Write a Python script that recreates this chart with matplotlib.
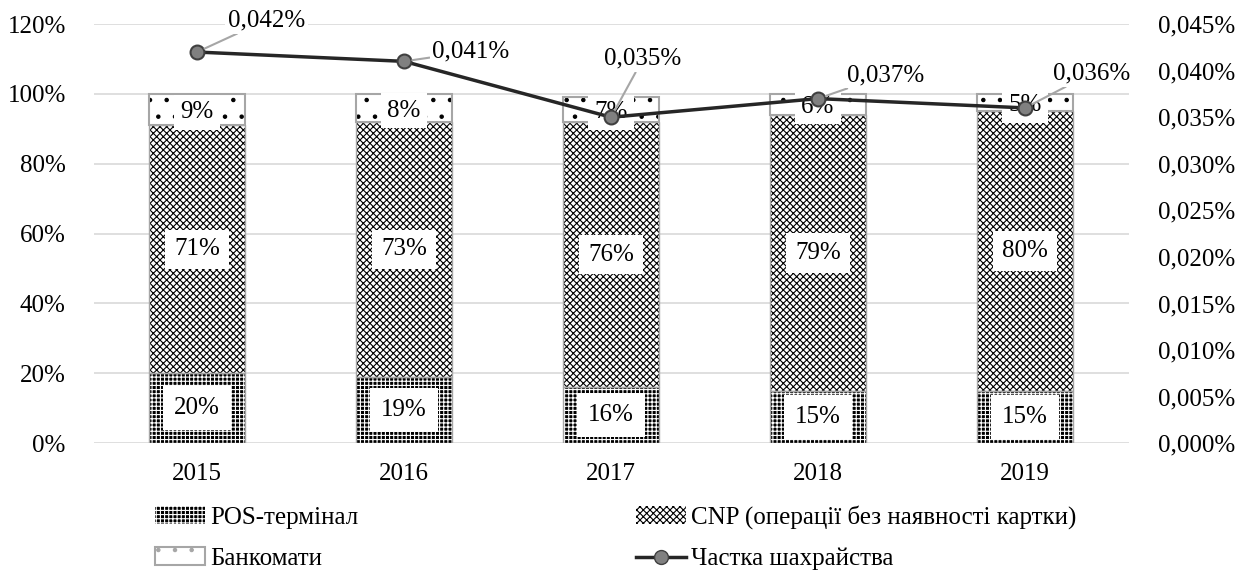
import matplotlib
matplotlib.use('Agg')
import matplotlib.pyplot as plt
import numpy as np
from matplotlib.patches import Patch
from matplotlib.lines import Line2D

plt.rcParams['font.family'] = ['Liberation Serif', 'DejaVu Serif']
plt.rcParams['font.size'] = 18
plt.rcParams['hatch.linewidth'] = 0.8

years = ['2015', '2016', '2017', '2018', '2019']
pos = [20, 19, 16, 15, 15]        # POS-термінал, %
cnp = [71, 73, 76, 79, 80]        # CNP, %
atm = [9, 8, 7, 6, 5]             # Банкомати, %
fraud = [0.042, 0.041, 0.035, 0.037, 0.036]  # частка шахрайства, %
fraud_offsets = [(50, 23), (48, 7), (23, 42), (49, 17), (48, 25)]  # label offsets (pt)

fig = plt.figure(figsize=(12.52, 5.74), dpi=100)
ax = fig.add_axes([0.0747, 0.228, 0.8267, 0.730])
x = np.arange(len(years))
w = 0.46
edge = '#a6a6a6'

ax.bar(x, pos, w, color='black', edgecolor='white', hatch='++++', linewidth=0, zorder=2)
ax.bar(x, pos, w, fill=False, edgecolor=edge, linewidth=1, zorder=3)
ax.bar(x, cnp, w, bottom=pos, color='white', edgecolor='black', hatch='xxxxx', linewidth=0, zorder=2)
ax.bar(x, cnp, w, bottom=pos, fill=False, edgecolor=edge, linewidth=1, zorder=3)
bot3 = np.array(pos) + np.array(cnp)
ax.bar(x, atm, w, bottom=bot3, color='white', edgecolor='black', hatch='.', linewidth=0, zorder=2)
ax.bar(x, atm, w, bottom=bot3, fill=False, edgecolor=edge, linewidth=1.5, zorder=3)

box = dict(boxstyle='square,pad=0.45', fc='white', ec='none')
for i in range(len(years)):
    ax.text(x[i], pos[i] / 2, '%d%%' % pos[i], ha='center', va='center', bbox=box, zorder=4)
    ax.text(x[i], pos[i] + cnp[i] / 2, '%d%%' % cnp[i], ha='center', va='center',
            bbox=dict(boxstyle='square,pad=0.35', fc='white', ec='none'), zorder=4)
    ax.text(x[i], bot3[i] + atm[i] / 2 - 0.8, '%d%%' % atm[i], ha='center', va='center',
            bbox=dict(boxstyle='square,pad=0.25', fc='white', ec='none'), zorder=4)

ax.set_ylim(0, 120)
ax.set_yticks(range(0, 121, 20))
ax.set_yticklabels(['%d%%' % v for v in range(0, 121, 20)])
ax.set_xlim(-0.5, 4.5)
ax.set_xticks(x)
ax.set_xticklabels(years)
ax.tick_params(length=0)
ax.tick_params(axis='x', pad=14)
ax.tick_params(axis='y', pad=20)
ax.grid(axis='y', color='#d9d9d9', linewidth=1.2, zorder=0)
ax.set_axisbelow(True)
for s in ax.spines.values():
    s.set_visible(False)

ax2 = ax.twinx()
ax2.plot(x, fraud, color='#262626', linewidth=2.5, marker='o', markersize=10,
         markerfacecolor='#808080', markeredgecolor='#404040', markeredgewidth=1.5, zorder=5)
for i in range(len(years)):
    ax2.annotate(('%.3f%%' % fraud[i]).replace('.', ','), (x[i], fraud[i]),
                 xytext=fraud_offsets[i], textcoords='offset points', ha='center', va='center',
                 bbox=dict(boxstyle='square,pad=0.1', fc='white', ec='none'),
                 arrowprops=dict(arrowstyle='-', color='#a6a6a6', lw=1.5, shrinkA=0, shrinkB=6),
                 zorder=6)
ax2.set_ylim(0, 0.045)
yt = np.arange(0, 0.0451, 0.005)
ax2.set_yticks(yt)
ax2.set_yticklabels([('%.3f%%' % v).replace('.', ',') for v in yt])
ax2.tick_params(length=0, pad=21)
for s in ax2.spines.values():
    s.set_visible(False)

handles = [
    Patch(facecolor='black', edgecolor='white', hatch='++++', linewidth=0),
    Patch(facecolor='white', edgecolor='#a6a6a6', hatch='.', linewidth=1.5),
    Patch(facecolor='white', edgecolor='black', hatch='xxxxx', linewidth=0),
    Line2D([], [], color='#262626', linewidth=2.5, marker='o', markersize=10,
           markerfacecolor='#808080', markeredgecolor='#404040'),
]
labels = ['POS-термінал', 'Банкомати', 'CNP (операції без наявності картки)', 'Частка шахрайства']
fig.legend(handles, labels, ncol=2, loc='upper left', bbox_to_anchor=(0.124, 0.12),
           frameon=False, handlelength=2.0, handleheight=0.7, handletextpad=0.2,
           columnspacing=11.1, labelspacing=0.75, borderaxespad=0, borderpad=0)

fig.savefig('out.png', dpi=100)
